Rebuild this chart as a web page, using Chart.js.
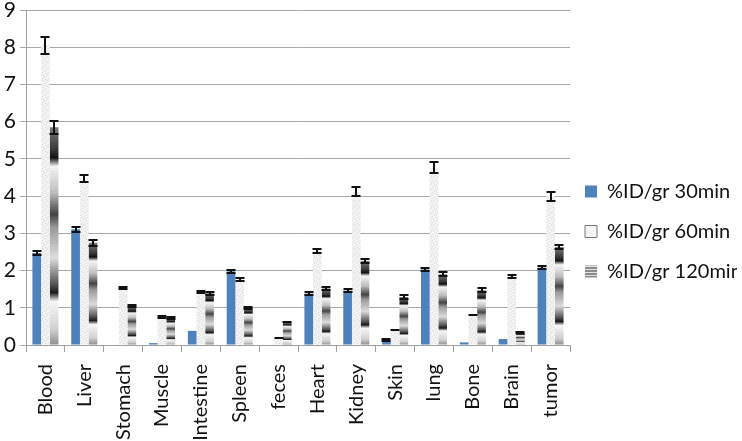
<!DOCTYPE html>
<html>
<head>
<meta charset="utf-8">
<script src="https://cdn.jsdelivr.net/npm/chart.js@4.4.0/dist/chart.umd.min.js"></script>
<style>
  body { margin: 0; background: #fff; }
  #wrap { width: 742px; height: 441px; }
</style>
</head>
<body>
<div id="wrap"><canvas id="myChart"></canvas></div>
<script>
// organs
const organs = ['Blood', 'Liver', 'Stomach', 'Muscle', 'Intestine', 'Spleen', 'feces', 'Heart', 'Kidney', 'Skin', 'lung', 'Bone', 'Brain', 'tumor'];

// %ID/gr values
const min30 = [2.47, 3.11, 0, 0.05, 0.38, 1.98, 0, 1.38, 1.46, 0.13, 2.03, 0.07, 0.16, 2.08];
const min60 = [8.05, 4.47, 1.53, 0.75, 1.42, 1.75, 0.19, 2.52, 4.12, 0.39, 4.76, 0.8, 1.84, 4.0];
const min120 = [5.85, 2.75, 1.05, 0.72, 1.39, 1.0, 0.62, 1.52, 2.26, 1.29, 1.9, 1.47, 0.33, 2.63];

// error bars (null = none drawn)
const err30 = [0.05, 0.07, null, null, null, 0.04, null, 0.04, 0.04, 0.02, 0.03, null, null, 0.04];
const err60 = [0.22, 0.1, 0.03, 0.02, 0.03, 0.04, 0, 0.05, 0.13, 0, 0.15, 0, 0.03, 0.12];
const err120 = [0.17, 0.08, 0.03, 0.02, 0.04, 0.03, 0, 0.05, 0.05, 0.06, 0.05, 0.05, 0.02, 0.06];

const yTicks = [0, 1, 2, 3, 4, 5, 6, 7, 8, 9];

const FONT = 'Lato';

//------------------------------------------------------------
// fills

function speckle() {
    const c = document.createElement('canvas');
    c.width = 6; c.height = 6;
    const g = c.getContext('2d');
    g.fillStyle = '#f1f1f1';
    g.fillRect(0, 0, 6, 6);
    g.fillStyle = '#dedede';
    [[0, 0], [3, 1], [1, 3], [4, 4], [2, 5], [5, 2]].forEach(([x, y]) => g.fillRect(x, y, 1, 1));
    g.fillStyle = '#fcfcfc';
    [[2, 0], [5, 5], [0, 4], [3, 3]].forEach(([x, y]) => g.fillRect(x, y, 1, 1));
    return g.createPattern(c, 'repeat');
}

function stripes() {
    const c = document.createElement('canvas');
    c.width = 4; c.height = 3;
    const g = c.getContext('2d');
    g.fillStyle = '#e0e0e0';
    g.fillRect(0, 0, 4, 3);
    g.fillStyle = '#8a8a8a';
    g.fillRect(0, 0, 4, 2);
    return g.createPattern(c, 'repeat');
}

const speckleFill = speckle();
const stripeFill = stripes();

// grey banded gradient scaled to each bar
function bandFill(c) {
    const chart = c.chart;
    if (!chart.chartArea || c.dataIndex === undefined) return '#999';
    const y = chart.scales.y;
    const top = y.getPixelForValue(min120[c.dataIndex]);
    const bottom = y.getPixelForValue(0);
    if (!isFinite(top) || bottom - top < 1) return '#999';
    const grad = chart.ctx.createLinearGradient(0, top, 0, bottom);
    const stops = [[0, '#7a7a7a'], [0.1, '#3a3a3a'], [0.14, '#111'], [0.18, '#f4f4f4'], [0.3, '#bdbdbd'],
        [0.4, '#444'], [0.46, '#9a9a9a'], [0.6, '#dcdcdc'], [0.72, '#555'], [0.76, '#1a1a1a'],
        [0.8, '#f6f6f6'], [0.93, '#d0d0d0'], [1, '#8c8c8c']];
    stops.forEach(([p, col]) => grad.addColorStop(p, col));
    return grad;
}

//------------------------------------------------------------
// error bars

const errorBars = {
    id: 'errorBars',
    afterDatasetsDraw(chart) {
        const ctx = chart.ctx;
        const y = chart.scales.y;
        const errs = [err30, err60, err120];
        ctx.save();
        ctx.strokeStyle = '#111';
        ctx.lineWidth = 2;
        chart.data.datasets.forEach((ds, i) => {
            const meta = chart.getDatasetMeta(i);
            meta.data.forEach((bar, j) => {
                const e = errs[i][j];
                if (e === null) return;
                const v = ds.data[j];
                const yt = Math.round(y.getPixelForValue(v + e));
                const yb = Math.round(y.getPixelForValue(v - e));
                const x = Math.round(bar.x);
                ctx.beginPath();
                ctx.moveTo(x, yt);
                ctx.lineTo(x, yb);
                ctx.moveTo(x - 4.5, yt);
                ctx.lineTo(x + 4.5, yt);
                ctx.moveTo(x - 4.5, yb);
                ctx.lineTo(x + 4.5, yb);
                ctx.stroke();
            });
        });
        ctx.restore();
    }
};

// nudge legend a bit closer to the plot
const legendShift = {
    id: 'legendShift',
    afterLayout(chart) {
        if (chart.legend) {
            chart.legend.left -= 5;
            chart.legend.right -= 5;
        }
    }
};

//------------------------------------------------------------

const data = {
    labels: organs,
    datasets: [
        { label: '%ID/gr 30min', data: min30, backgroundColor: '#4f81bd' },
        { label: '%ID/gr 60min', data: min60, backgroundColor: speckleFill },
        { label: '%ID/gr 120min', data: min120, backgroundColor: bandFill }
    ]
};

const legendFills = ['#4f81bd', '#f4f4f4', stripeFill];
const legendBorders = ['#4f81bd', '#777', '#bbb'];

const config = {
    type: 'bar',
    data,
    options: {
        responsive: true,
        maintainAspectRatio: false,
        animation: false,
        layout: { padding: { top: 10, right: 0, left: 0, bottom: 0 } },
        datasets: {
            bar: { categoryPercentage: 0.67, barPercentage: 1.0, borderWidth: 0 }
        },
        scales: {
            x: {
                grid: { display: true, drawOnChartArea: false, color: '#a0a0a0', tickLength: 7, offset: true },
                border: { color: '#a0a0a0' },
                ticks: {
                    minRotation: 90, maxRotation: 90, autoSkip: false, padding: 12,
                    color: '#111', font: { family: FONT, size: 20 }
                },
                afterFit: (axis) => { axis.height = 96; }
            },
            y: {
                min: 0, max: 9,
                grid: { color: '#a8a8a8', tickLength: 6 },
                border: { color: '#a0a0a0' },
                ticks: {
                    stepSize: 1, padding: 4, color: '#111',
                    font: { family: FONT, size: 21 },
                    callback: (v) => yTicks.includes(v) ? String(v) : ''
                },
                afterFit: (axis) => { axis.width = 26; axis.paddingTop = 0; }
            }
        },
        plugins: {
            tooltip: { enabled: false },
            legend: {
                position: 'right',
                maxWidth: 172,
                title: { display: true, text: '', font: { size: 10 }, padding: { top: 0, bottom: 0 } },
                labels: {
                    boxWidth: 12, boxHeight: 12, padding: 20,
                    color: '#111', font: { family: FONT, size: 20 },
                    generateLabels: (chart) => chart.data.datasets.map((ds, i) => ({
                        text: ds.label,
                        fillStyle: legendFills[i],
                        strokeStyle: legendBorders[i],
                        lineWidth: i === 1 ? 1 : 0,
                        fontColor: '#111',
                        datasetIndex: i
                    }))
                }
            }
        }
    },
    plugins: [errorBars, legendShift]
};

const canvas = document.getElementById('myChart');
const myChart = new Chart(canvas, config);
</script>
</body>
</html>
